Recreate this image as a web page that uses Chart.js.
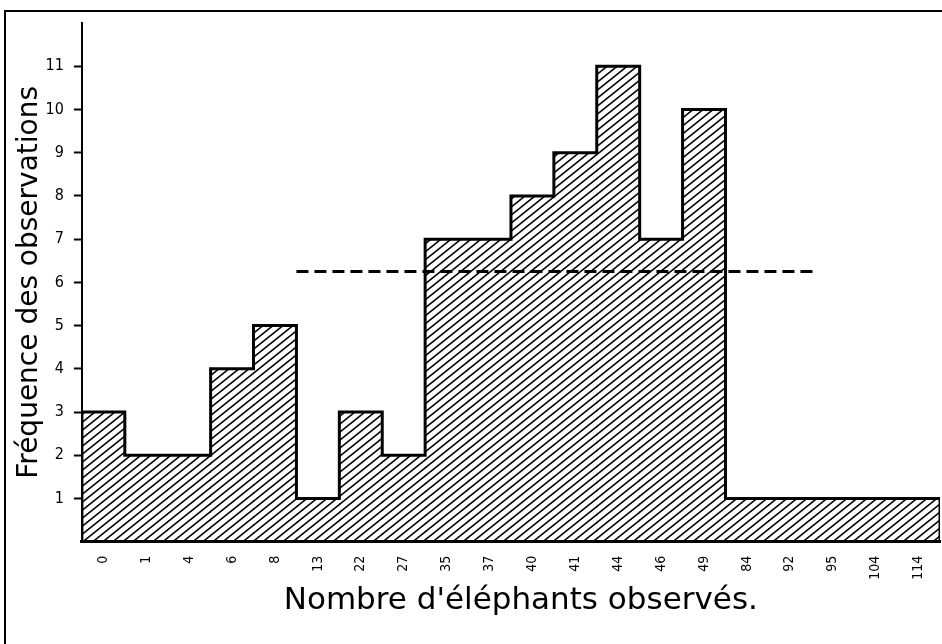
<!DOCTYPE html>
<html>
<head>
<meta charset="utf-8">
<script src="https://cdn.jsdelivr.net/npm/chart.js@4.4.1/dist/chart.umd.min.js"></script>
<style>
  html, body { margin: 0; padding: 0; background: #fff; }
  #wrap { width: 942px; height: 644px; }
</style>
</head>
<body>
<div id="wrap"><canvas id="elephants" width="942" height="644"></canvas></div>
<script>
// nombre d'éléphants observés -> fréquence
var categories = ["0", "1", "4", "6", "8", "13", "22", "27", "35", "37",
                  "40", "41", "44", "46", "49", "84", "92", "95", "104", "114"];
var frequencies = [3, 2, 2, 4, 5, 1, 3, 2, 7, 7, 8, 9, 11, 7, 10, 1, 1, 1, 1, 1];
var yTicks = [1, 2, 3, 4, 5, 6, 7, 8, 9, 10, 11];

// dashed reference line (value, and its extent in category units)
var meanValue = 6.25;
var meanFrom = 5;
var meanTo = 17.15;

var tickFont = "'DejaVu Sans Condensed', 'Liberation Sans Narrow', sans-serif";
var titleFont = "'DejaVu Sans', sans-serif";

// outline of the histogram, built from the frequencies
var outline = [{ x: 0, y: 0 }];
for (var i = 0; i < frequencies.length; i++) {
  outline.push({ x: i, y: frequencies[i] });
}
outline.push({ x: frequencies.length, y: frequencies[frequencies.length - 1] });
outline.push({ x: frequencies.length, y: 0 });

function hatchPattern() {
  var w = 10, h = 8;
  var c = document.createElement('canvas');
  c.width = w;
  c.height = h;
  var g = c.getContext('2d');
  g.strokeStyle = '#000';
  g.lineWidth = 1.6;
  for (var k = 0; k <= 2; k++) {
    g.beginPath();
    g.moveTo(w * (k + 1), -h);
    g.lineTo(w * (k - 2), 2 * h);
    g.stroke();
  }
  return g.createPattern(c, 'repeat');
}

var framePlugin = {
  id: 'frame',
  beforeDraw: function (chart) {
    var ctx = chart.ctx;
    ctx.save();
    ctx.strokeStyle = '#000';
    ctx.lineWidth = 2;
    ctx.beginPath();
    ctx.moveTo(5, chart.height);
    ctx.lineTo(5, 11);
    ctx.lineTo(chart.width, 11);
    ctx.stroke();
    ctx.restore();
  }
};

var ctx = document.getElementById('elephants');

var chart = new Chart(ctx, {
  type: 'bar',
  data: {
    labels: categories,
    datasets: [
      {
        type: 'line',
        label: 'moyenne',
        data: [{ x: meanFrom, y: meanValue }, { x: meanTo, y: meanValue }],
        xAxisID: 'x2',
        borderColor: '#000',
        borderWidth: 3,
        borderDash: [12, 6],
        pointRadius: 0,
        fill: false,
        order: 0
      },
      {
        type: 'line',
        label: 'contour',
        data: outline,
        xAxisID: 'x2',
        stepped: 'before',
        borderColor: '#000',
        borderWidth: 3,
        borderJoinStyle: 'miter',
        pointRadius: 0,
        fill: false,
        order: 1
      },
      {
        label: 'Fréquence',
        data: frequencies,
        backgroundColor: hatchPattern(),
        borderWidth: 0,
        grouped: false,
        categoryPercentage: 1,
        barPercentage: 1,
        order: 2
      }
    ]
  },
  options: {
    responsive: false,
    animation: false,
    layout: { padding: { left: 0, top: 23, right: 2, bottom: 12 } },
    plugins: {
      legend: { display: false },
      tooltip: { enabled: false }
    },
    scales: {
      x: {
        type: 'category',
        offset: true,
        grid: { display: false, drawTicks: false },
        border: { display: true, color: '#000', width: 3 },
        ticks: {
          color: '#000',
          font: { family: tickFont, size: 14 },
          minRotation: 90,
          maxRotation: 90,
          autoSkip: false,
          padding: 14
        },
        title: {
          display: true,
          text: "  Nombre d'éléphants observés.",
          color: '#000',
          font: { family: titleFont, size: 31 },
          padding: { top: -11, bottom: 12 }
        },
        afterFit: function (scale) {
          scale.paddingLeft = 0;
          scale.paddingRight = 0;
        }
      },
      x2: {
        type: 'linear',
        display: false,
        offset: false,
        min: 0,
        max: categories.length
      },
      y: {
        min: 0,
        max: 12,
        grid: {
          drawOnChartArea: false,
          drawTicks: true,
          tickLength: 8,
          tickWidth: 2,
          tickColor: function (c) {
            return c.tick && yTicks.indexOf(c.tick.value) >= 0 ? '#000' : 'rgba(0,0,0,0)';
          }
        },
        border: { display: true, color: '#000', width: 2 },
        ticks: {
          stepSize: 1,
          color: '#000',
          padding: 10,
          font: { family: tickFont, size: 16 },
          callback: function (value) {
            return yTicks.indexOf(value) >= 0 ? String(value) : '';
          }
        },
        title: {
          display: true,
          text: 'Fréquence des observations',
          color: '#000',
          font: { family: titleFont, size: 28 },
          padding: { top: 13, bottom: -11 }
        }
      }
    }
  },
  plugins: [framePlugin]
});
</script>
</body>
</html>
